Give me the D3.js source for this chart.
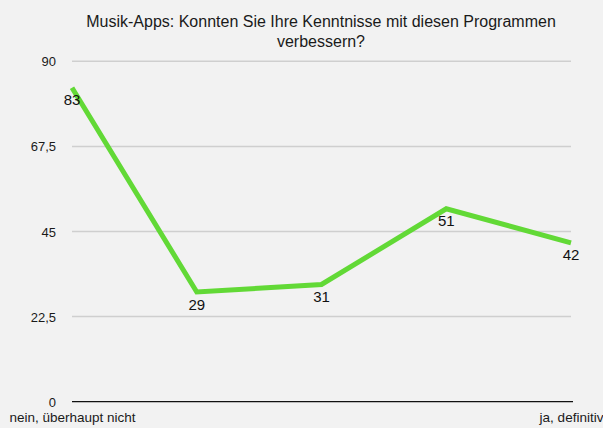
<!DOCTYPE html>
<html><head><meta charset="utf-8">
<script src="https://cdn.jsdelivr.net/npm/d3@7"></script>
<style>html,body{margin:0;padding:0;background:#f2f2f2;}svg{display:block;}</style>
</head><body>
<script>
const categories = ["nein, überhaupt nicht", "2", "3", "4", "ja, definitiv"];
const values = [83, 29, 31, 51, 42];
const yTicks = [0, 22.5, 45, 67.5, 90];
const xTickLabels = ["nein, überhaupt nicht", "", "", "", "ja, definitiv"];
const titleLines = ["Musik-Apps: Konnten Sie Ihre Kenntnisse mit diesen Programmen", "verbessern?"];

const W = 603, H = 428;
const svg = d3.select("body").append("svg").attr("width", W).attr("height", H);
svg.append("rect").attr("width", W).attr("height", H).attr("fill", "#f2f2f2");
const font = "'Liberation Sans', Arial, Helvetica, sans-serif";

const x = d3.scalePoint().domain(categories).range([72, 571]);
const y = d3.scaleLinear().domain([0, 90]).range([401.7, 61.3]);

// title
svg.append("g").selectAll("text").data(titleLines).join("text")
  .attr("x", 321).attr("y", (d, i) => 27 + i * 20)
  .attr("text-anchor", "middle").attr("font-family", font).attr("font-size", 16)
  .attr("fill", "#1a1a1a").text(d => d);

// y axis / grid
const yAxis = d3.axisLeft(y).tickValues(yTicks).tickSize(0).tickPadding(0)
  .tickFormat(d => String(d).replace(".", ","));
const gy = svg.append("g").attr("transform", "translate(56,0)").call(yAxis);
gy.select(".domain").remove();
gy.selectAll("text").attr("font-family", font).attr("font-size", 13).attr("fill", "#1a1a1a")
  .attr("dy", "0.35em");

svg.append("g").selectAll("line").data(yTicks.filter(d => d > 0)).join("line")
  .attr("x1", 72).attr("x2", 571).attr("y1", d => y(d)).attr("y2", d => y(d))
  .attr("stroke", "#cfcfcf").attr("stroke-width", 1.5);
svg.append("line").attr("x1", 72).attr("x2", 573).attr("y1", y(0)).attr("y2", y(0))
  .attr("stroke", "#111").attr("stroke-width", 1.3);

// x axis labels
const xAxis = d3.axisBottom(x).tickSize(0).tickPadding(0).tickFormat((d, i) => xTickLabels[i]);
const gx = svg.append("g").attr("transform", `translate(0,${y(0)})`).call(xAxis);
gx.select(".domain").remove();
gx.selectAll("text").attr("font-family", font).attr("font-size", 13.5).attr("fill", "#1a1a1a")
  .attr("dy", null).attr("y", 20);

// line
const data = categories.map((c, i) => ({c, v: values[i]}));
svg.append("path").datum(data)
  .attr("d", d3.line().x(d => x(d.c)).y(d => y(d.v)))
  .attr("fill", "none").attr("stroke", "#62d936").attr("stroke-width", 5)
  .attr("stroke-linejoin", "miter");

// value labels
svg.append("g").selectAll("text").data(data).join("text")
  .attr("x", d => x(d.c)).attr("y", d => y(d.v) + 17.5)
  .attr("text-anchor", "middle").attr("font-family", font).attr("font-size", 15)
  .attr("fill", "#111").text(d => d.v);
</script>
</body></html>
